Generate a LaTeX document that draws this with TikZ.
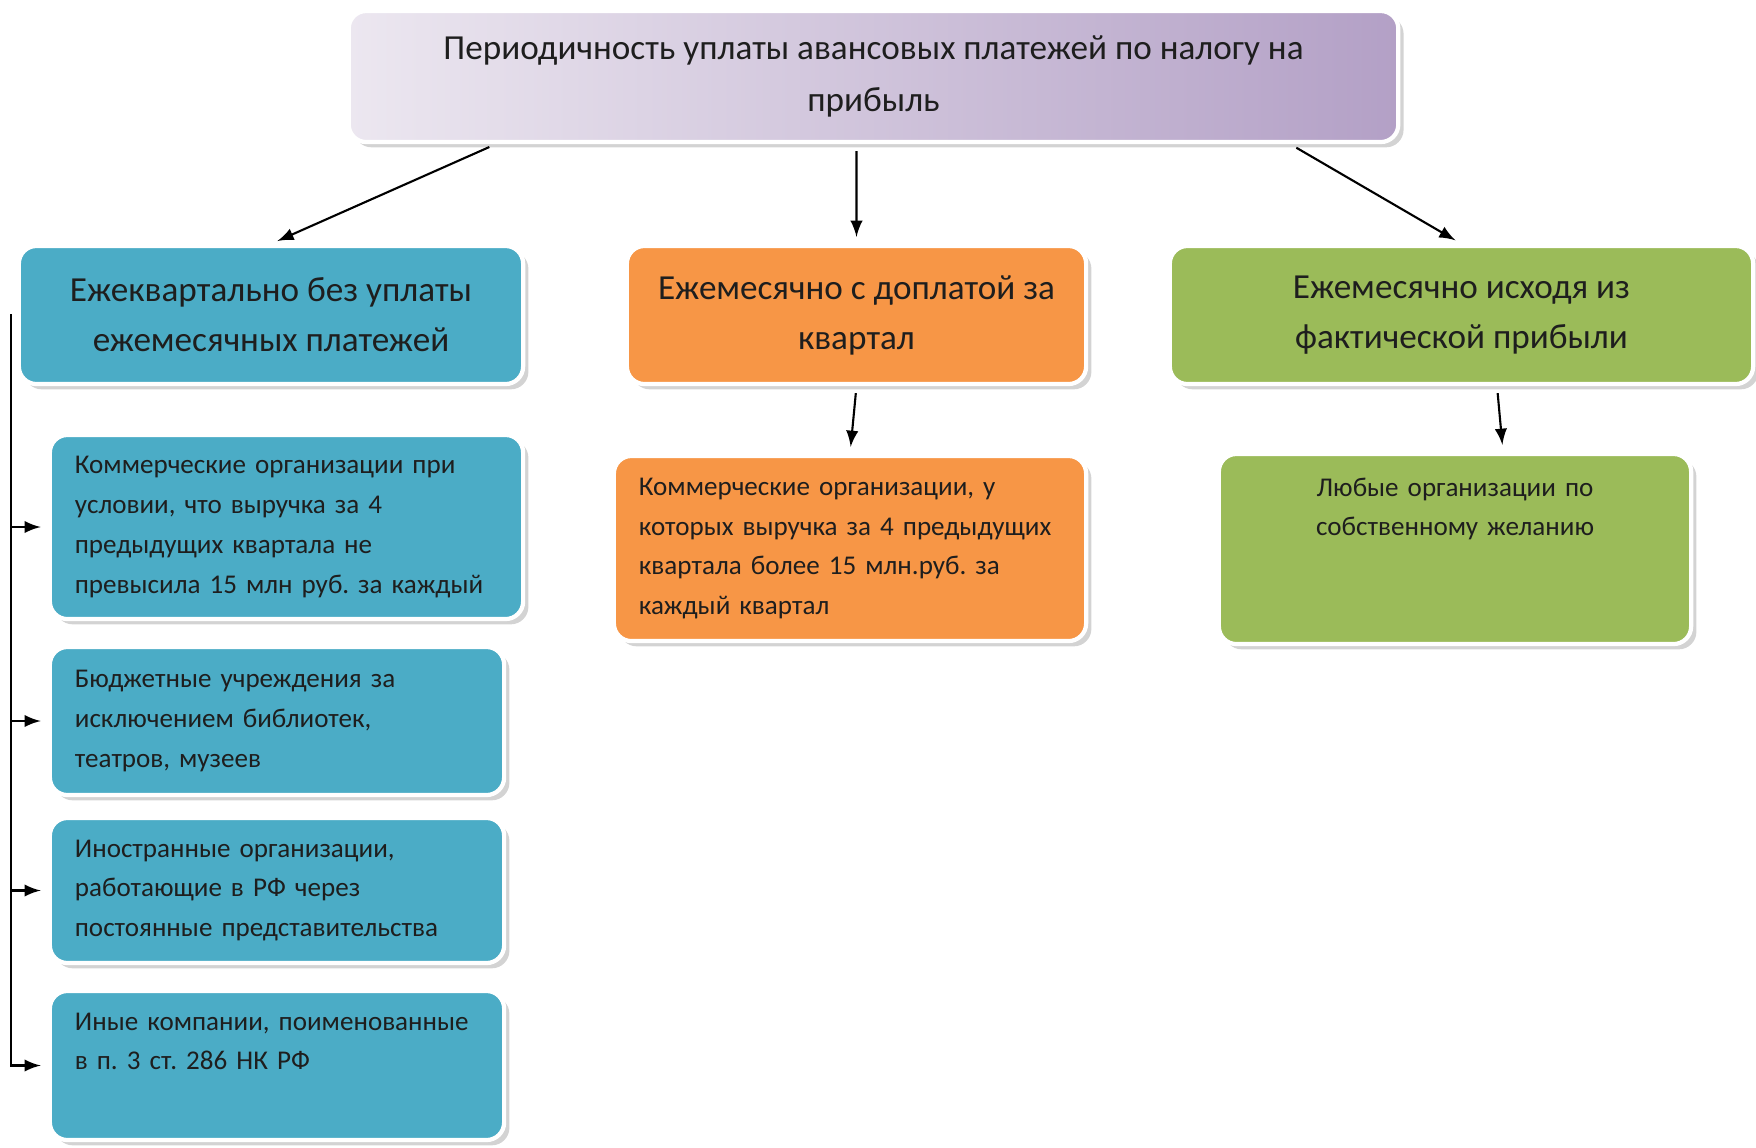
\documentclass[tikz,border=0pt]{standalone}
\usepackage{fontspec}
\setmainfont{Carlito}
\usepackage{tikz}
\usetikzlibrary{shadows}
\definecolor{headblue}{HTML}{4BACC6}
\definecolor{headorange}{HTML}{F79646}
\definecolor{headgreen}{HTML}{9BBB59}
\definecolor{lilaclight}{HTML}{ECE7F0}
\definecolor{lilacdark}{HTML}{B3A0C6}
\definecolor{inkgray}{HTML}{1E1E1E}
\frenchspacing

\begin{document}
\begin{tikzpicture}[x=0.01cm,y=-0.01cm,%
    boxbase/.style={rounded corners=5pt,draw=white,line width=1.2pt,text=inkgray,%
      drop shadow={shadow xshift=1.5pt,shadow yshift=-1.5pt,opacity=.35}},%
    headbox/.style={boxbase,align=center,font=\fontsize{10}{14.2}\selectfont,inner sep=0pt},%
    subbox/.style={boxbase,align=left,font=\fontsize{7.7}{11.3}\selectfont,inner xsep=0.25cm,inner ysep=0pt},%
    arr/.style={semithick,-latex,shorten <=2pt,shorten >=2pt}]%
  \useasboundingbox (0,0) rectangle (1756,1147);%
  % top and the three ways of paying
  \node [headbox,font=\fontsize{10}{15}\selectfont,left color=lilaclight,right color=lilacdark,minimum width=10.49cm,minimum height=1.31cm] (top) at (873.5,76.5) {Периодичность уплаты авансовых платежей по налогу на\\прибыль};%
  \node [headbox,fill=headblue,minimum width=5.04cm,minimum height=1.38cm] (lh) at (271,315) {Ежеквартально без уплаты\\ежемесячных платежей};%
  \node [headbox,fill=headorange,minimum width=4.59cm,minimum height=1.38cm] (mh) at (856.5,315) {Ежемесячно с доплатой за\\квартал};%
  \node [headbox,fill=headgreen,minimum width=5.83cm,minimum height=1.38cm] (rh) at (1461.5,315) {Ежемесячно исходя из\\фактической прибыли};%
  % who pays that way
  \node [subbox,fill=headblue,text width=4.23cm,minimum height=1.84cm] (l1) at (286.5,527) {Коммерческие организации при\\условии, что выручка за 4\\предыдущих квартала не\\превысила 15 млн руб. за каждый};%
  \node [subbox,fill=headblue,text width=4.04cm,minimum height=1.48cm] (l2) at (277,721) {Бюджетные учреждения за\\исключением библиотек,\\театров, музеев};%
  \node [subbox,fill=headblue,text width=4.04cm,minimum height=1.45cm] (l3) at (277,890.5) {Иностранные организации,\\работающие в РФ через\\постоянные представительства};%
  \node [subbox,fill=headblue,text width=4.04cm,minimum height=1.49cm] (l4) at (277,1065.5) {Иные компании, поименованные\\в п. 3 ст. 286 НК РФ\par\vspace*{0.48cm}};%
  \node [subbox,fill=headorange,text width=4.22cm,minimum height=1.85cm] (ms) at (850,548.5) {Коммерческие организации, у\\которых выручка за 4 предыдущих\\квартала более 15 млн.руб. за\\каждый квартал};%
  \node [subbox,fill=headgreen,align=center,text width=4.22cm,minimum height=1.9cm] (rs) at (1455,549) {Любые организации по\\собственному желанию\par\vspace*{0.8cm}};%
  % connectors
  \draw [arr] ([xshift=-3.775cm]top.south) to (lh.north);%
  \draw [arr] ([xshift=-0.17cm]top.south) to (mh.north);%
  \draw [arr] ([xshift=4.165cm]top.south) to (rh.north);%
  \draw [arr] (mh.south) to (ms.north);%
  \draw [arr] ([xshift=0.355cm]rh.south) to ([xshift=0.48cm]rs.north);%
  \coordinate (spine) at (11,314);%
  \draw [arr,shorten <=0pt] (spine) |- (l4.west);%
  \draw [arr,shorten <=0pt] (spine |- l1.west) to (l1.west);%
  \draw [arr,shorten <=0pt] (spine |- l2.west) to (l2.west);%
  \draw [arr,shorten <=0pt] (spine |- l3.west) to (l3.west);%
\end{tikzpicture}
\end{document}
